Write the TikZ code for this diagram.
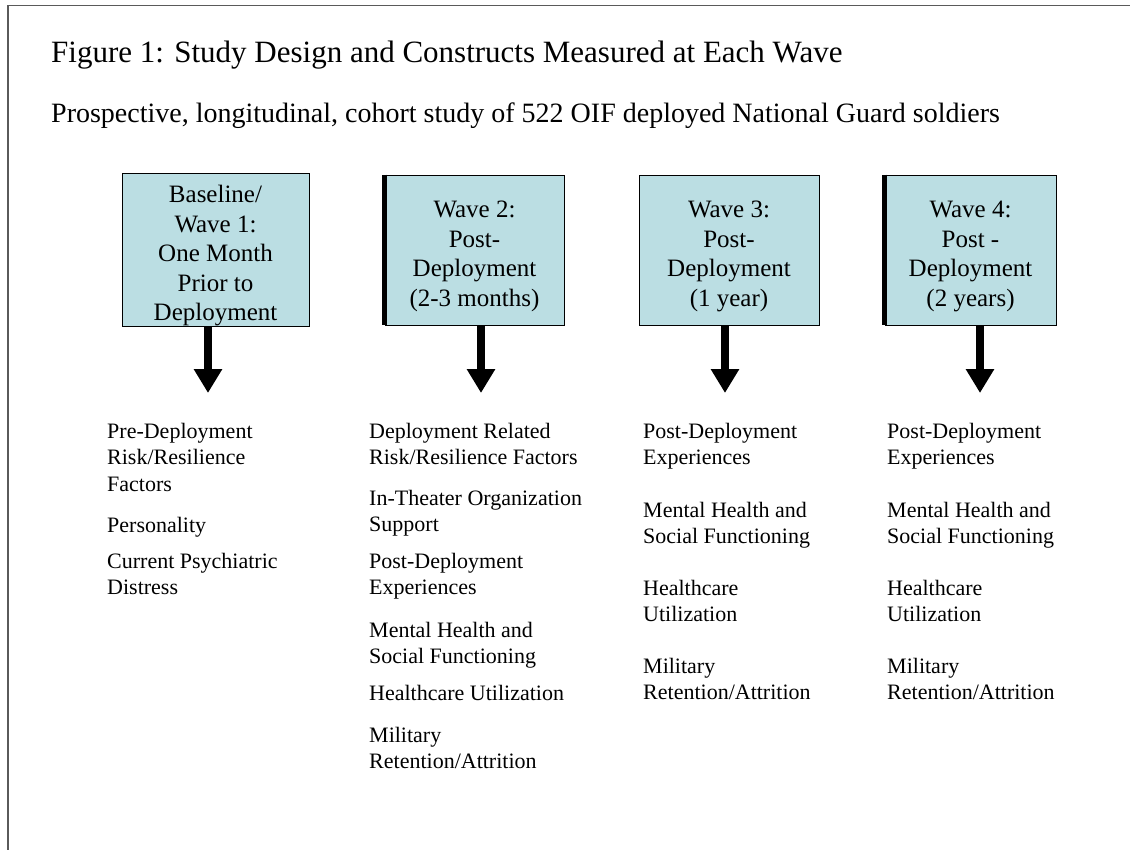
\documentclass[tikz,border=0pt]{standalone}
\usepackage{fontspec}
\setmainfont{Liberation Serif}
\usetikzlibrary{arrows.meta}
\definecolor{waveblue}{RGB}{187,222,227}
\definecolor{framegray}{RGB}{90,90,90}
\tikzset{
	wavebox/.style={draw=black, fill=waveblue, line width=0.8pt, minimum height=150pt, inner sep=0pt, align=center, font=\fontsize{25}{29.5}\selectfont},
	itemtext/.style={anchor=base west, align=left, inner sep=0pt, font=\fontsize{22}{26.5}\selectfont},
	downarrow/.style={line width=8pt, -{Triangle[width=27pt,length=24pt]}},
}
\newcommand{\firstline}{\rule{0pt}{29pt}}
\begin{document}
\begin{tikzpicture}[x=1pt, y=-1pt]
		\useasboundingbox (0,0) rectangle (1130,850);
		% frame
		\draw [framegray, line width=1.5pt] (1130,5.5) -- (8,5.5) -- (8,850);
		
		\node [anchor=base west, inner sep=0pt, font=\fontsize{31}{36}\selectfont] (title) at (51,63) {Figure 1: Study Design and Constructs Measured at Each Wave};
		\node [anchor=base west, inner sep=0pt, font=\fontsize{28}{33}\selectfont] (subtitle) at (51,123) {Prospective, longitudinal, cohort study of 522 OIF deployed National Guard soldiers};
		
		% waves
		\node [wavebox, minimum width=187pt] (w1) at (215.5,250) {\firstline Baseline/\\Wave 1:\\One Month\\Prior to\\Deployment};
		\node [wavebox, minimum width=179pt] (w2) at (474.5,250) {\firstline Wave 2:\\Post-\\Deployment\\(2-3 months)};
		\node [wavebox, minimum width=180pt] (w3) at (729,250) {\firstline Wave 3:\\Post-\\Deployment\\(1 year)};
		\node [wavebox, minimum width=171pt] (w4) at (970.5,250) {\firstline Wave 4:\\Post -\\Deployment\\(2 years)};
		\draw [line width=4.5pt] (w2.north west) -- (w2.south west);
		\draw [line width=4.5pt] (w4.north west) -- (w4.south west);
		
		\coordinate (a1) at (208,393);
		\coordinate (a2) at (481,393);
		\coordinate (a3) at (725,393);
		\coordinate (a4) at (980,393);
		\draw [downarrow] (w1.south -| a1) -- (a1);
		\draw [downarrow] (w2.south -| a2) -- (a2);
		\draw [downarrow] (w3.south -| a3) -- (a3);
		\draw [downarrow] (w4.south -| a4) -- (a4);
		
		% constructs (anchored at the last line's baseline)
		\node [itemtext] (c1a) at (107,491) {Pre-Deployment\\Risk/Resilience\\Factors};
		\node [itemtext] (c1b) at (107,532) {Personality};
		\node [itemtext] (c1c) at (107,594.5) {Current Psychiatric\\Distress};
		
		\node [itemtext] (c2a) at (369,464.5) {Deployment Related\\Risk/Resilience Factors};
		\node [itemtext] (c2b) at (369,531.5) {In-Theater Organization\\Support};
		\node [itemtext] (c2c) at (369,594.5) {Post-Deployment\\Experiences};
		\node [itemtext] (c2d) at (369,663.5) {Mental Health and\\Social Functioning};
		\node [itemtext] (c2e) at (369,700) {Healthcare Utilization};
		\node [itemtext] (c2f) at (369,768.5) {Military\\Retention/Attrition};
		
		\node [itemtext] (c3a) at (643,464.5) {Post-Deployment\\Experiences};
		\node [itemtext] (c3b) at (643,543.5) {Mental Health and\\Social Functioning};
		\node [itemtext] (c3c) at (643,621.5) {Healthcare\\Utilization};
		\node [itemtext] (c3d) at (643,699.5) {Military\\Retention/Attrition};
		
		\node [itemtext] (c4a) at (887,464.5) {Post-Deployment\\Experiences};
		\node [itemtext] (c4b) at (887,543.5) {Mental Health and\\Social Functioning};
		\node [itemtext] (c4c) at (887,621.5) {Healthcare\\Utilization};
		\node [itemtext] (c4d) at (887,699.5) {Military\\Retention/Attrition};
		
\end{tikzpicture}
\end{document}
